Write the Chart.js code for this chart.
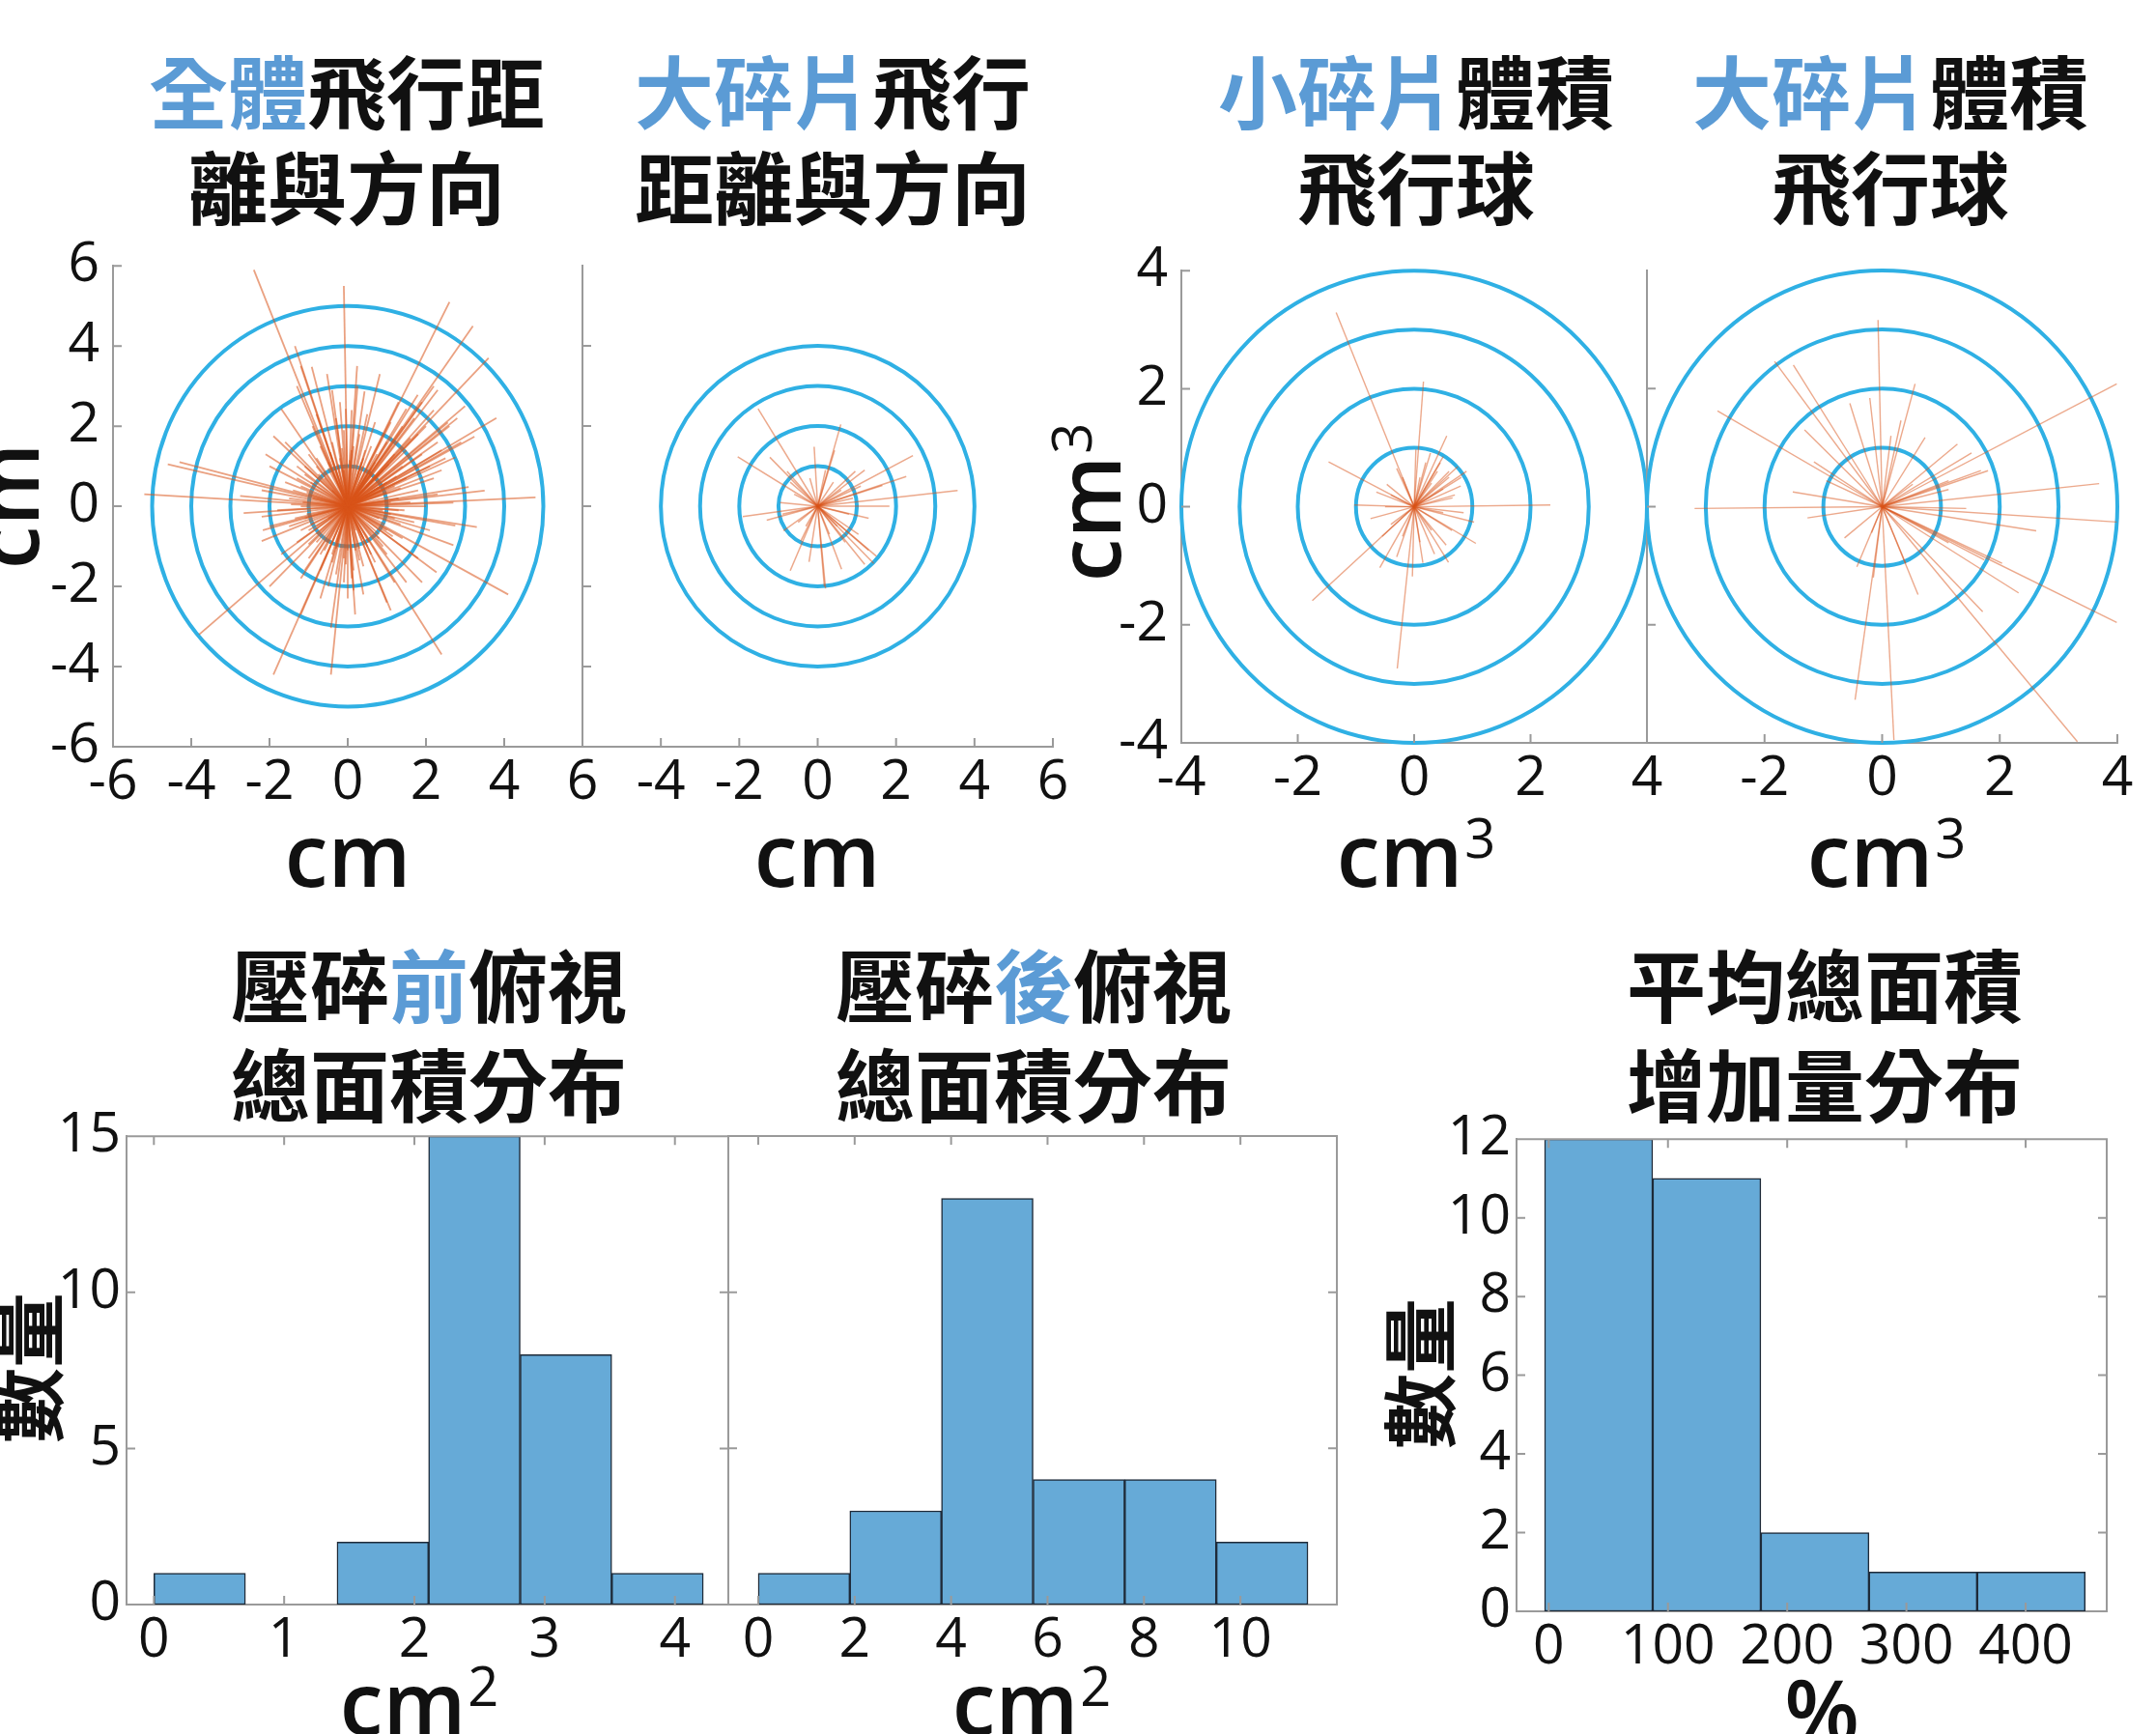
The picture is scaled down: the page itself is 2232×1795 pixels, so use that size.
<!DOCTYPE html>
<html>
<head>
<meta charset="utf-8">
<script src="https://cdn.jsdelivr.net/npm/chart.js@4.4.1/dist/chart.umd.min.js"></script>
<style>
  html, body { margin: 0; padding: 0; background: #fff; }
  body { width: 2232px; height: 1795px; position: relative; overflow: hidden; }
  canvas { position: absolute; }
  .ttl { position: absolute; transform: translateX(-50%); white-space: nowrap;
         font-family: "Noto Sans CJK TC", sans-serif; font-weight: 700; font-size: 82px;
         line-height: 1; color: #111; }
  .ttl .hl { color: #5b9bd5; }
  .unit { position: absolute; transform: translateX(-50%); white-space: nowrap;
          font-family: "Open Sans", sans-serif; font-weight: 600; font-size: 90px;
          line-height: 1; color: #111; }
  .sup { font-size: 56px; font-weight: 400; vertical-align: 30px; line-height: 0; margin-left: 2px; }
  .rot { position: absolute; white-space: nowrap; line-height: 1; color: #111;
         transform: translate(-50%, -50%) rotate(-90deg); }
  .rot.lat { font-family: "Open Sans", sans-serif; font-weight: 600; font-size: 90px; }
  .rot.cjk { font-family: "Noto Sans CJK TC", sans-serif; font-weight: 700; font-size: 78px; }
</style>
</head>
<body>

<div class="ttl" style="left:359px;top:51px"><span class="hl">全體</span>飛行距</div>
<div class="ttl" style="left:359px;top:150px">離與方向</div>
<div class="ttl" style="left:862px;top:51px"><span class="hl">大碎片</span>飛行</div>
<div class="ttl" style="left:862px;top:150px">距離與方向</div>
<div class="ttl" style="left:1466px;top:51px"><span class="hl">小碎片</span>體積</div>
<div class="ttl" style="left:1466px;top:150px">飛行球</div>
<div class="ttl" style="left:1957px;top:51px"><span class="hl">大碎片</span>體積</div>
<div class="ttl" style="left:1957px;top:150px">飛行球</div>

<div class="ttl" style="left:444px;top:976px">壓碎<span class="hl">前</span>俯視</div>
<div class="ttl" style="left:444px;top:1079px">總面積分布</div>
<div class="ttl" style="left:1070px;top:976px">壓碎<span class="hl">後</span>俯視</div>
<div class="ttl" style="left:1070px;top:1079px">總面積分布</div>
<div class="ttl" style="left:1889px;top:976px">平均總面積</div>
<div class="ttl" style="left:1889px;top:1079px">增加量分布</div>

<div class="unit" style="left:360px;top:838px">cm</div>
<div class="unit" style="left:846px;top:838px">cm</div>
<div class="unit" style="left:1466px;top:838px">cm<span class="sup">3</span></div>
<div class="unit" style="left:1953px;top:838px">cm<span class="sup">3</span></div>
<div class="unit" style="left:434px;top:1716px">cm<span class="sup">2</span></div>
<div class="unit" style="left:1068px;top:1716px">cm<span class="sup">2</span></div>
<div class="unit" style="left:1886px;top:1724px">%</div>

<div class="rot lat" style="left:5px;top:524px">cm</div>
<div class="rot lat" style="left:1125px;top:520px">cm<span class="sup">3</span></div>
<div class="rot cjk" style="left:25px;top:1416px">數量</div>
<div class="rot cjk" style="left:1466px;top:1422px">數量</div>

<script>
// ---------- data: flight vectors (end points; every ray starts at the origin) ----------
// 全體飛行距離與方向 (cm)
const wholeFlight = [
  [-2.4,5.9],[-0.1,5.5],[2.6,5.1],[3.2,4.5],[3.6,3.7],[3.8,2.2],[3.0,2.5],[0.24,3.5],
  [-1.35,4.0],[-1.2,3.5],[-4.6,1.05],[-4.3,1.1],[-5.2,0.3],[4.8,0.22],[3.5,0.39],[3.3,-0.52],
  [2.75,-0.48],[4.1,-2.2],[2.4,-3.7],[1.9,-1.9],[0.19,-2.7],[-0.43,-4.2],[-1.9,-4.2],[-3.8,-3.2],
  [-2.0,-2.0],[0.15,-2.1],[-0.7,-2.3],[-2.2,-0.87],[-2.2,-0.26],[-2.75,0.26],[-2.1,1.3],[-1.9,1.75],
  [2.7,-0.97],[2.2,0.7],[2.4,1.4],[2.8,2.2],[2.2,3.0],[1.3,2.6],[0.7,2.1],[-0.8,2.3],
  [-0.4,2.9],[1.1,-2.6],[-1.1,-1.6],[1.79,2.78],[1.5,2.43],[2.56,2.09],[3.24,1.74],[2.75,1.22],
  [3.09,0.48],[2.7,0.09],[-2.66,-0.17],[-2.17,-0.6],[-0.43,-3.04],[-1.2,-2.7],[1.0,-2.4],[1.5,-1.9],
  [2.27,-1.65],[-0.53,3.3],[-0.92,3.48],[-1.3,3.0],[-1.7,2.43],[0.82,3.3],[0.43,2.87],[-0.05,2.43],
  [1.6,0.1],[1.3,0.2],[1.8,0.4],[1.2,0.5],[1.5,0.7],[1.0,0.6],[1.4,1.0],[0.9,0.9],
  [1.2,1.3],[0.7,1.1],[1.0,1.6],[0.6,1.5],[0.4,1.2],[0.3,1.8],[0.1,1.4],[-0.1,1.9],
  [-0.2,1.2],[-0.4,1.6],[-0.5,1.1],[-0.7,1.5],[-0.8,1.0],[-1.0,1.3],[-1.1,0.8],[-1.3,1.0],
  [-1.2,0.5],[-1.6,0.6],[-1.0,0.3],[-1.5,0.2],[-1.2,0.0],[-1.8,-0.1],[-1.1,-0.3],[-1.5,-0.5],
  [-1.0,-0.6],[-1.3,-0.9],[-0.8,-0.9],[-1.0,-1.3],[-0.6,-1.1],[-0.7,-1.6],[-0.4,-1.2],[-0.3,-1.7],
  [-0.1,-1.3],[0.1,-1.8],[0.2,-1.1],[0.4,-1.5],[0.5,-1.0],[0.7,-1.4],[0.8,-0.8],[1.0,-1.2],
  [1.0,-0.6],[1.4,-0.8],[1.2,-0.3],[1.7,-0.4],[1.3,-0.1],[2.0,0.0],
  [1.6,1.7],[1.9,1.3],[1.4,2.0],[2.1,1.0],[1.7,2.2],[2.3,1.6],[1.8,1.8],[1.1,2.1],
  [2.4,0.9],[1.5,1.4],[2.0,2.0],[2.2,2.4],[2.6,2.0],[1.9,2.6],[2.5,1.2],[2.9,1.6],[2.3,2.9],
  [-1.6,1.6],[-2.0,1.0],[-2.2,0.4],[-2.0,-0.5],[-1.7,-1.2],[-1.2,-1.8],[-0.5,-2.0],[0.4,-2.2],
  [1.2,-1.9],[1.8,-1.3],[2.1,-0.6],[2.3,0.3],[-0.9,2.0],[-0.3,2.2],[0.5,2.3],
  [0.6,0.8],[0.9,0.4],[0.8,-0.3],[0.4,-0.8],[-0.3,-0.9],[-0.8,-0.5],[-0.9,0.2],[-0.6,0.7],
  [-0.1,0.9],[0.4,1.0],[0.9,-0.1],[0.2,-0.6],[-0.5,-0.3],[-0.4,0.4],
  [1.1,0.1],[1.0,0.35],[0.95,0.55],[0.8,0.8],[0.6,0.95],[0.35,1.1],[0.05,1.15],[-0.25,1.05],
  [-0.5,0.95],[-0.75,0.8],[-0.95,0.6],[-1.05,0.35],[-1.15,0.1],[-1.05,-0.2],[-0.95,-0.45],[-0.8,-0.7],
  [-0.55,-0.9],[-0.3,-1.05],[0.0,-1.1],[0.3,-1.05],[0.55,-0.9],[0.8,-0.7],[0.95,-0.45],[1.1,-0.2],
  [1.35,0.45],[1.25,0.75],[1.05,1.05],[0.75,1.3],[0.45,1.4],[0.15,1.5],[-0.15,1.45],[-0.45,1.35],
  [-0.8,1.2],[-1.1,1.0],[-1.3,0.7],[-1.4,0.4],[-1.45,0.05],[-1.35,-0.3],[-1.2,-0.6],[-1.0,-0.95],
  [-0.7,-1.2],[-0.4,-1.4],[-0.05,-1.45],[0.3,-1.35],[0.6,-1.2],[0.9,-1.0],[1.15,-0.75],[1.35,-0.45],
  [1.45,-0.1],[0.1,2.4],[-0.2,2.6],[0.25,3.0],[0.0,-2.3],[-0.1,-1.9],[0.15,-1.6]
];
// 大碎片飛行距離與方向 (cm)
const largeFlight = [
  [-1.52,2.43],[0.59,2.04],[-2.04,1.23],[2.43,1.26],[2.26,0.74],[3.57,0.39],[1.65,0.52],[-1.91,-0.26],
  [-1.3,-0.35],[-0.7,-1.61],[0.17,-2.0],[-0.22,-1.39],[0.61,-1.57],[1.43,-1.43],[1.3,-1.1],[-0.09,1.48],
  [-1.22,1.22],[-0.78,0.87],[0.43,1.39],[1.83,0.0],[0.96,0.87],[-0.87,-0.61],[-0.43,-0.87],[1.04,-0.7],
  [-0.96,0.09],[1.5,-1.25],[1.2,-1.45],[0.2,-2.05],
  [0.6,0.4],[0.8,-0.2],[0.3,-0.7],[-0.5,-0.4],[-0.6,0.3],[-0.2,0.7],[0.2,0.9],[0.9,0.2],
  [0.5,-0.5],[-0.3,-0.5],[0.4,0.6],[-0.7,0.6],[1.1,0.5],[0.7,-0.9],[-0.9,-0.2],[1.3,-0.3],[1.2,0.9]
];
// 小碎片體積飛行球 (cm³)
const smallVolume = [
  [-1.34,3.29],[0.16,2.12],[0.56,1.2],[-1.47,0.76],[2.34,0.03],[-1.75,-1.59],[-0.29,-2.74],[1.06,-0.62],
  [1.03,-0.26],[-1.03,0.03],[-0.59,-1.03],[0.59,-0.94],[-0.03,-1.18],[0.81,0.5],[0.75,0.68],[0.66,0.15],
  [0.28,0.91],[0.03,0.97],[-0.47,0.38],
  [0.5,0.3],[0.6,0.5],[0.4,0.6],[0.7,0.2],[0.5,-0.1],[0.3,-0.4],[0.1,-0.6],[-0.2,-0.5],[-0.4,-0.3],
  [-0.5,0.0],[-0.4,0.2],[-0.2,0.5],[0.1,0.5],[0.3,0.4],[0.8,0.35],[0.6,0.6],[0.45,0.75],[0.2,0.75],
  [-0.3,0.65],[-0.55,-0.5],[-0.3,-0.85],[0.35,-0.8],[0.65,-0.4],[0.85,-0.1],[0.9,0.6],[0.5,0.85],
  [-0.65,0.25],[-0.75,-0.2],[0.15,-0.95],[0.55,-0.65]
];
// 大碎片體積飛行球 (cm³)
const largeVolume = [
  [-0.07,3.16],[-1.83,2.46],[-1.51,2.4],[-2.8,1.62],[0.56,2.08],[-0.55,1.75],[-1.32,1.3],[3.99,2.08],
  [3.69,0.39],[3.99,-0.26],[2.62,-0.41],[3.99,-1.96],[2.04,-0.96],[2.32,-1.46],[1.71,-1.78],[3.32,-3.98],
  [0.2,-3.95],[-0.46,-3.27],[0.61,-1.49],[-3.19,-0.03],[-1.52,0.25],[-1.27,-0.19],[-0.64,-0.53],[1.28,1.06],
  [1.52,0.91],[1.8,0.61],[0.73,1.17],[0.15,1.2],[0.32,1.46],[-1.16,0.76],[1.43,-0.03],[1.13,0.29],
  [-0.43,-1.02],[0.4,-0.96],[-0.21,1.84],[-0.15,-1.2],[1.68,0.61],[1.13,0.44],[0.52,0.38],[-0.18,-0.44],
  [-0.95,0.44],[1.74,-0.9],[1.13,-0.61]
];
// reference rings (same unit as the rays)
const ringsWhole = [1, 2, 3, 4, 5];
const ringsLarge = [1, 2, 3, 4];
const ringsVolume = [1, 2, 3, 4];
// tick labels, top row
const cmTicks = [-6, -4, -2, 0, 2, 4, 6];
const cmTicksRight = [-4, -2, 0, 2, 4, 6];
const volTicks = [-4, -2, 0, 2, 4];
const volTicksRight = [-2, 0, 2, 4];

// ---------- data: histograms ----------
// 壓碎前俯視總面積 (cm²)
const beforeEdges = [0, 0.703, 1.406, 2.109, 2.812, 3.515, 4.218];
const beforeCounts = [1, 0, 2, 15, 8, 1];
// 壓碎後俯視總面積 (cm²)
const afterEdges = [0, 1.9, 3.8, 5.7, 7.6, 9.5, 11.4];
const afterCounts = [1, 3, 13, 4, 4, 2];
// 平均總面積增加量 (%)
const growthEdges = [-3.5, 87.2, 177.9, 268.6, 359.3, 450];
const growthCounts = [12, 11, 2, 1, 1];
const beforeXTicks = [0, 1, 2, 3, 4];
const afterXTicks = [0, 2, 4, 6, 8, 10];
const growthXTicks = [0, 100, 200, 300, 400];
const countTicks15 = [0, 5, 10, 15];
const countTicks12 = [0, 2, 4, 6, 8, 10, 12];

// ---------- styles ----------
const AXIS = '#9a9a9a';
const INK = '#111111';
const RING = '#2fb0e4';
const BAR = 'rgb(102,170,215)';
const EDGE = '#1e2a38';
const tickFont = { family: 'Open Sans', size: 57 };

// inward tick marks (and the closing box for the histograms)
const framePlugin = {
  id: 'frame',
  afterDatasetsDraw(chart, args, o) {
    const { ctx, chartArea: a, scales: { x, y } } = chart;
    const L = o.len || 10;
    ctx.save();
    ctx.strokeStyle = AXIS;
    ctx.lineWidth = 2;
    ctx.beginPath();
    if (o.box) {
      ctx.moveTo(a.left, a.top); ctx.lineTo(a.right, a.top); ctx.lineTo(a.right, a.bottom);
    }
    x.ticks.forEach(t => {
      const px = x.getPixelForValue(t.value);
      ctx.moveTo(px, a.bottom); ctx.lineTo(px, a.bottom - L);
      if (o.box) { ctx.moveTo(px, a.top); ctx.lineTo(px, a.top + L); }
    });
    y.ticks.forEach(t => {
      const py = y.getPixelForValue(t.value);
      ctx.moveTo(a.left, py); ctx.lineTo(a.left + L, py);
      if (o.box) { ctx.moveTo(a.right, py); ctx.lineTo(a.right - L, py); }
    });
    ctx.stroke();
    ctx.restore();
  }
};

// concentric distance rings, drawn through the chart's scales
const ringPlugin = {
  id: 'rings',
  beforeDatasetsDraw(chart, args, o) {
    if (!o.radii) return;
    const { ctx, scales: { x, y } } = chart;
    const cx = x.getPixelForValue(0), cy = y.getPixelForValue(0);
    ctx.save();
    ctx.strokeStyle = RING;
    ctx.lineWidth = 4;
    o.radii.forEach(r => {
      const rx = Math.abs(x.getPixelForValue(r) - cx);
      const ry = Math.abs(y.getPixelForValue(r) - cy);
      ctx.beginPath();
      ctx.ellipse(cx, cy, rx, ry, 0, 0, Math.PI * 2);
      ctx.stroke();
    });
    ctx.restore();
  }
};

function makeCanvas(w, h) {
  const c = document.createElement('canvas');
  c.width = w; c.height = h;
  c.style.width = w + 'px'; c.style.height = h + 'px';
  document.body.appendChild(c);
  return c;
}

function axis(min, max, ticks, showLabels, size, isX, pad) {
  return {
    type: 'linear', min, max, offset: false,
    grid: { display: false, drawTicks: false },
    border: { display: true, color: AXIS, width: 2 },
    ticks: { display: showLabels, font: tickFont, color: INK, padding: pad,
             maxRotation: 0, minRotation: 0, autoSkip: false },
    afterBuildTicks: s => { s.ticks = ticks.map(v => ({ value: v })); },
    afterFit: s => { if (isX) s.height = size; else s.width = size; }
  };
}

// box: wanted plot area in page pixels; yw: room for the y labels
function panel(box, yw, ylPad, chartType, datasets, xs, ys, pluginOpts) {
  const padTop = 40, padRight = 40, xh = 80;
  let extraW = 0, extraH = 0, c, chart;
  for (let pass = 0; pass < 2; pass++) {
    c = makeCanvas(yw + box.w + padRight + extraW, padTop + box.h + xh + extraH);
    chart = new Chart(c, {
      type: chartType,
      data: { datasets },
      options: {
        responsive: false, maintainAspectRatio: false, animation: false, devicePixelRatio: 1,
        layout: { autoPadding: false, padding: { top: padTop, right: padRight, bottom: 0, left: 0 } },
        plugins: Object.assign({ legend: { display: false }, tooltip: { enabled: false } }, pluginOpts),
        scales: {
          x: axis(xs.min, xs.max, xs.ticks, xs.labels, xh, true, 4),
          y: axis(ys.min, ys.max, ys.ticks, ys.labels, yw, false, ylPad)
        }
      },
      plugins: [framePlugin, ringPlugin]
    });
    const a = chart.chartArea;
    if (pass === 0) {
      extraW = box.w - (a.right - a.left);
      extraH = box.h - (a.bottom - a.top);
      if (Math.abs(extraW) < 0.5 && Math.abs(extraH) < 0.5) break;
      chart.destroy();
      c.remove();
    }
  }
  const a = chart.chartArea;
  c.style.left = (box.l - a.left) + 'px';
  c.style.top = (box.t - a.top) + 'px';
  return chart;
}

function rays(points, color, width) {
  return points.map(p => ({
    data: [{ x: 0, y: 0 }, { x: p[0], y: p[1] }],
    showLine: true, borderColor: color, borderWidth: width, pointRadius: 0, tension: 0
  }));
}

function hist(edges, counts) {
  return [{
    data: counts.map((n, i) => ({ x: (edges[i] + edges[i + 1]) / 2, y: n })),
    backgroundColor: BAR, borderColor: EDGE, borderWidth: 1.5, borderSkipped: false,
    barPercentage: 1, categoryPercentage: 1, grouped: false
  }];
}

// ---------- top row ----------
panel({ l: 117, t: 275, w: 486, h: 498 }, 117, 14, 'scatter',
  rays(wholeFlight, 'rgba(217,83,25,0.55)', 1.8),
  { min: -6, max: 6, ticks: cmTicks, labels: true },
  { min: -6, max: 6, ticks: cmTicks, labels: true },
  { frame: { len: 9 }, rings: { radii: ringsWhole } });

panel({ l: 603, t: 275, w: 487, h: 498 }, 20, 14, 'scatter',
  rays(largeFlight, 'rgba(217,83,25,0.5)', 1.5),
  { min: -6, max: 6, ticks: cmTicksRight, labels: true },
  { min: -6, max: 6, ticks: [-4, -2, 0, 2, 4], labels: false },
  { frame: { len: 9 }, rings: { radii: ringsLarge } });

panel({ l: 1223, t: 280, w: 482, h: 489 }, 117, 14, 'scatter',
  rays(smallVolume, 'rgba(217,83,25,0.5)', 1.4),
  { min: -4, max: 4, ticks: volTicks, labels: true },
  { min: -4, max: 4, ticks: volTicks, labels: true },
  { frame: { len: 9 }, rings: { radii: ringsVolume } });

panel({ l: 1705, t: 280, w: 487, h: 489 }, 20, 14, 'scatter',
  rays(largeVolume, 'rgba(217,83,25,0.5)', 1.4),
  { min: -4, max: 4, ticks: volTicksRight, labels: true },
  { min: -4, max: 4, ticks: [-2, 0, 2], labels: false },
  { frame: { len: 9 }, rings: { radii: ringsVolume } });

// ---------- bottom row ----------
panel({ l: 131, t: 1176, w: 623, h: 485 }, 120, 6, 'bar', hist(beforeEdges, beforeCounts),
  { min: -0.21, max: 4.41, ticks: beforeXTicks, labels: true },
  { min: 0, max: 15, ticks: countTicks15, labels: true },
  { frame: { len: 9, box: true } });

panel({ l: 754, t: 1176, w: 630, h: 485 }, 20, 6, 'bar', hist(afterEdges, afterCounts),
  { min: -0.62, max: 12.0, ticks: afterXTicks, labels: true },
  { min: 0, max: 15, ticks: countTicks15, labels: false },
  { frame: { len: 9, box: true } });

panel({ l: 1570, t: 1179, w: 611, h: 489 }, 120, 6, 'bar', hist(growthEdges, growthCounts),
  { min: -27, max: 468, ticks: growthXTicks, labels: true },
  { min: 0, max: 12, ticks: countTicks12, labels: true },
  { frame: { len: 9, box: true } });
</script>
</body>
</html>
